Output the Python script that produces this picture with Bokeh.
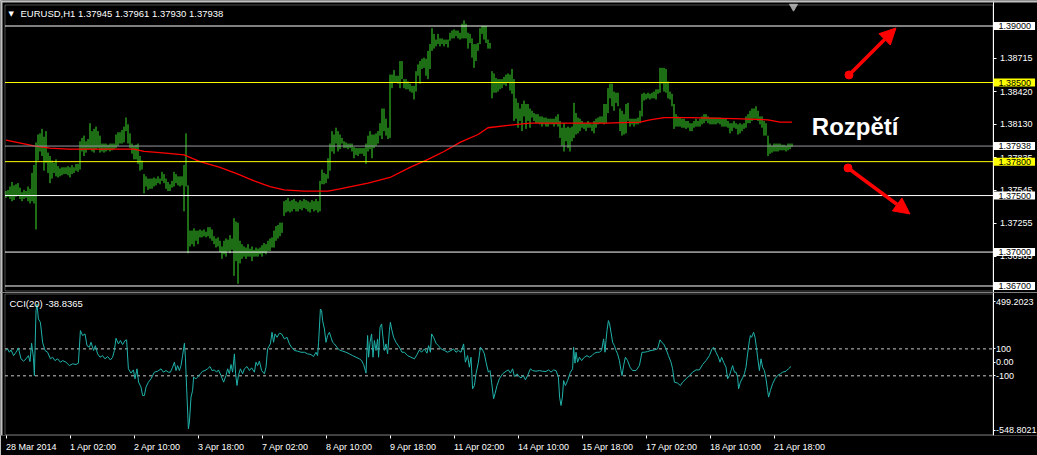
from bokeh.plotting import figure
from bokeh.models import (Label, Arrow, NormalHead, FixedTicker, PrintfTickFormatter,
                          Range1d, BoxAnnotation)
from bokeh.layouts import column
from bokeh.embed import file_html
from bokeh.resources import INLINE

# ---------------- data ----------------
highs = [
    1.3754, 1.3755, 1.3758, 1.3762, 1.3759, 1.3760, 1.3761, 1.3757, 1.3753, 1.3755,
    1.3754, 1.3758, 1.3756, 1.3770, 1.3777, 1.3797, 1.3804, 1.3805, 1.3809, 1.3802,
    1.3807, 1.3788, 1.3785, 1.3781, 1.3779, 1.3782, 1.3776, 1.3774, 1.3775, 1.3775,
    1.3775, 1.3776, 1.3775, 1.3777, 1.3775, 1.3778, 1.3778, 1.3798, 1.3801, 1.3803,
    1.3798, 1.3800, 1.3814, 1.3807, 1.3809, 1.3811, 1.3807, 1.3803, 1.3796, 1.3796,
    1.3796, 1.3795, 1.3796, 1.3796, 1.3796, 1.3804, 1.3806, 1.3806, 1.3808, 1.3811,
    1.3819, 1.3813, 1.3805, 1.3796, 1.3794, 1.3795, 1.3796, 1.3785, 1.3781, 1.3769,
    1.3767, 1.3765, 1.3765, 1.3765, 1.3766, 1.3765, 1.3767, 1.3765, 1.3771, 1.3769,
    1.3765, 1.3762, 1.3760, 1.3763, 1.3771, 1.3769, 1.3767, 1.3767, 1.3767, 1.3777,
    1.3805, 1.3759, 1.3719, 1.3719, 1.3721, 1.3719, 1.3719, 1.3720, 1.3719, 1.3720,
    1.3718, 1.3722, 1.3722, 1.3720, 1.3714, 1.3712, 1.3713, 1.3710, 1.3705, 1.3710,
    1.3712, 1.3711, 1.3715, 1.3712, 1.3730, 1.3727, 1.3726, 1.3710, 1.3707, 1.3705,
    1.3704, 1.3707, 1.3703, 1.3705, 1.3702, 1.3704, 1.3703, 1.3704, 1.3706, 1.3708,
    1.3707, 1.3710, 1.3712, 1.3713, 1.3719, 1.3723, 1.3724, 1.3726, 1.3726, 1.3745,
    1.3746, 1.3748, 1.3745, 1.3746, 1.3747, 1.3745, 1.3744, 1.3746, 1.3745, 1.3747,
    1.3746, 1.3745, 1.3744, 1.3746, 1.3745, 1.3747, 1.3745, 1.3763, 1.3773, 1.3770,
    1.3769, 1.3783, 1.3796, 1.3807, 1.3804, 1.3810, 1.3807, 1.3804, 1.3801, 1.3798,
    1.3797, 1.3796, 1.3796, 1.3796, 1.3793, 1.3792, 1.3792, 1.3792, 1.3792, 1.3792,
    1.3796, 1.3803, 1.3807, 1.3804, 1.3804, 1.3805, 1.3807, 1.3814, 1.3827, 1.3827,
    1.3818, 1.3810, 1.3857, 1.3857, 1.3861, 1.3856, 1.3856, 1.3869, 1.3869, 1.3853,
    1.3853, 1.3851, 1.3849, 1.3847, 1.3847, 1.3860, 1.3866, 1.3869, 1.3871, 1.3872,
    1.3871, 1.3878, 1.3884, 1.3898, 1.3893, 1.3888, 1.3893, 1.3889, 1.3889, 1.3888,
    1.3888, 1.3888, 1.3894, 1.3896, 1.3897, 1.3896, 1.3896, 1.3894, 1.3902, 1.3905,
    1.3902, 1.3894, 1.3893, 1.3889, 1.3884, 1.3884, 1.3885, 1.3898, 1.3900, 1.3900,
    1.3900, 1.3888, 1.3885, 1.3860, 1.3858, 1.3854, 1.3853, 1.3853, 1.3853, 1.3855,
    1.3857, 1.3858, 1.3857, 1.3862, 1.3853, 1.3836, 1.3832, 1.3827, 1.3831, 1.3834,
    1.3831, 1.3831, 1.3827, 1.3825, 1.3823, 1.3822, 1.3822, 1.3820, 1.3820, 1.3819,
    1.3819, 1.3818, 1.3818, 1.3818, 1.3818, 1.3820, 1.3822, 1.3816, 1.3810, 1.3814,
    1.3810, 1.3811, 1.3810, 1.3811, 1.3832, 1.3823, 1.3819, 1.3818, 1.3816, 1.3814,
    1.3814, 1.3816, 1.3814, 1.3813, 1.3816, 1.3818, 1.3819, 1.3820, 1.3820, 1.3831,
    1.3831, 1.3845, 1.3849, 1.3849, 1.3842, 1.3841, 1.3841, 1.3827, 1.3825, 1.3822,
    1.3831, 1.3832, 1.3818, 1.3818, 1.3818, 1.3818, 1.3819, 1.3825, 1.3840, 1.3841,
    1.3840, 1.3841, 1.3840, 1.3841, 1.3842, 1.3844, 1.3844, 1.3863, 1.3863, 1.3863,
    1.3862, 1.3851, 1.3842, 1.3840, 1.3831, 1.3822, 1.3820, 1.3819, 1.3818, 1.3818,
    1.3816, 1.3816, 1.3814, 1.3814, 1.3816, 1.3818, 1.3816, 1.3818, 1.3820, 1.3822,
    1.3822, 1.3820, 1.3819, 1.3819, 1.3819, 1.3819, 1.3819, 1.3819, 1.3818, 1.3818,
    1.3818, 1.3816, 1.3814, 1.3814, 1.3816, 1.3814, 1.3813, 1.3814, 1.3813, 1.3814,
    1.3820, 1.3822, 1.3825, 1.3827, 1.3827, 1.3829, 1.3825, 1.3820, 1.3820, 1.3816,
    1.3814, 1.3803, 1.3796, 1.3794, 1.3796, 1.3796, 1.3796, 1.3796, 1.3795, 1.3795,
    1.3794, 1.3796, 1.3796, 1.3796,
]
lows = [
    1.3748, 1.3749, 1.3747, 1.3745, 1.3746, 1.3749, 1.3750, 1.3747, 1.3745, 1.3747,
    1.3748, 1.3745, 1.3743, 1.3745, 1.3743, 1.3720, 1.3781, 1.3789, 1.3785, 1.3772,
    1.3779, 1.3770, 1.3761, 1.3765, 1.3770, 1.3767, 1.3766, 1.3767, 1.3768, 1.3769,
    1.3769, 1.3768, 1.3766, 1.3769, 1.3770, 1.3772, 1.3771, 1.3773, 1.3789, 1.3785,
    1.3788, 1.3791, 1.3791, 1.3789, 1.3788, 1.3791, 1.3792, 1.3788, 1.3789, 1.3788,
    1.3789, 1.3790, 1.3789, 1.3790, 1.3791, 1.3792, 1.3794, 1.3796, 1.3796, 1.3797,
    1.3807, 1.3796, 1.3792, 1.3787, 1.3782, 1.3782, 1.3778, 1.3772, 1.3773, 1.3752,
    1.3758, 1.3755, 1.3756, 1.3756, 1.3758, 1.3759, 1.3761, 1.3760, 1.3763, 1.3761,
    1.3756, 1.3754, 1.3754, 1.3757, 1.3758, 1.3761, 1.3759, 1.3758, 1.3759, 1.3736,
    1.3758, 1.3699, 1.3705, 1.3707, 1.3705, 1.3710, 1.3707, 1.3713, 1.3713, 1.3714,
    1.3713, 1.3714, 1.3712, 1.3710, 1.3707, 1.3704, 1.3705, 1.3700, 1.3694, 1.3698,
    1.3696, 1.3701, 1.3699, 1.3702, 1.3679, 1.3692, 1.3672, 1.3690, 1.3694, 1.3696,
    1.3694, 1.3696, 1.3696, 1.3692, 1.3696, 1.3696, 1.3696, 1.3698, 1.3696, 1.3699,
    1.3698, 1.3701, 1.3701, 1.3704, 1.3704, 1.3710, 1.3712, 1.3714, 1.3717, 1.3732,
    1.3735, 1.3736, 1.3735, 1.3736, 1.3738, 1.3736, 1.3736, 1.3738, 1.3737, 1.3739,
    1.3738, 1.3736, 1.3735, 1.3738, 1.3736, 1.3737, 1.3735, 1.3736, 1.3760, 1.3760,
    1.3761, 1.3765, 1.3772, 1.3789, 1.3787, 1.3796, 1.3789, 1.3791, 1.3796, 1.3792,
    1.3792, 1.3791, 1.3792, 1.3789, 1.3783, 1.3786, 1.3785, 1.3787, 1.3787, 1.3785,
    1.3778, 1.3789, 1.3791, 1.3783, 1.3792, 1.3794, 1.3796, 1.3803, 1.3800, 1.3807,
    1.3803, 1.3800, 1.3801, 1.3845, 1.3850, 1.3850, 1.3849, 1.3845, 1.3853, 1.3845,
    1.3844, 1.3844, 1.3842, 1.3841, 1.3835, 1.3842, 1.3856, 1.3849, 1.3862, 1.3863,
    1.3856, 1.3853, 1.3862, 1.3878, 1.3880, 1.3882, 1.3884, 1.3882, 1.3884, 1.3882,
    1.3884, 1.3881, 1.3887, 1.3889, 1.3889, 1.3891, 1.3889, 1.3888, 1.3889, 1.3889,
    1.3889, 1.3880, 1.3885, 1.3872, 1.3863, 1.3869, 1.3878, 1.3884, 1.3893, 1.3888,
    1.3885, 1.3880, 1.3880, 1.3836, 1.3841, 1.3841, 1.3842, 1.3844, 1.3845, 1.3848,
    1.3847, 1.3850, 1.3843, 1.3840, 1.3816, 1.3818, 1.3810, 1.3816, 1.3807, 1.3820,
    1.3809, 1.3816, 1.3810, 1.3819, 1.3816, 1.3814, 1.3814, 1.3813, 1.3811, 1.3813,
    1.3811, 1.3811, 1.3813, 1.3813, 1.3811, 1.3813, 1.3811, 1.3801, 1.3794, 1.3789,
    1.3798, 1.3792, 1.3789, 1.3798, 1.3801, 1.3804, 1.3805, 1.3807, 1.3810, 1.3809,
    1.3807, 1.3810, 1.3810, 1.3807, 1.3805, 1.3810, 1.3813, 1.3814, 1.3814, 1.3813,
    1.3814, 1.3823, 1.3836, 1.3829, 1.3825, 1.3832, 1.3829, 1.3807, 1.3803, 1.3804,
    1.3805, 1.3816, 1.3811, 1.3813, 1.3811, 1.3813, 1.3813, 1.3814, 1.3820, 1.3834,
    1.3835, 1.3836, 1.3835, 1.3836, 1.3836, 1.3835, 1.3840, 1.3841, 1.3849, 1.3842,
    1.3841, 1.3836, 1.3835, 1.3829, 1.3809, 1.3811, 1.3811, 1.3811, 1.3810, 1.3810,
    1.3809, 1.3810, 1.3807, 1.3807, 1.3810, 1.3811, 1.3811, 1.3811, 1.3813, 1.3814,
    1.3816, 1.3814, 1.3813, 1.3813, 1.3813, 1.3813, 1.3814, 1.3813, 1.3811, 1.3811,
    1.3811, 1.3810, 1.3805, 1.3807, 1.3810, 1.3809, 1.3804, 1.3805, 1.3807, 1.3809,
    1.3810, 1.3814, 1.3814, 1.3816, 1.3818, 1.3818, 1.3816, 1.3813, 1.3810, 1.3803,
    1.3803, 1.3785, 1.3787, 1.3788, 1.3789, 1.3789, 1.3789, 1.3790, 1.3790, 1.3790,
    1.3789, 1.3790, 1.3791, 1.3793,
]
bar_index = list(range(len(highs)))

# moving average (red), read at its turning points
ma_x = [0, 14, 22, 31, 64, 69, 77, 89, 97, 107, 116, 124, 132, 139, 149, 161, 167, 181,
        192, 202, 211, 219, 227, 236, 241, 251, 262, 277, 300, 317, 322, 329, 342, 364,
        381, 387, 393]
ma_v = [1.3799, 1.3794, 1.3792, 1.3791, 1.3791, 1.3789, 1.3788, 1.3786, 1.3780, 1.3775,
        1.3769, 1.3763, 1.3758, 1.3755, 1.3754, 1.3754, 1.3756, 1.3761, 1.3766, 1.3775,
        1.3782, 1.3789, 1.3797, 1.3804, 1.3810, 1.3812, 1.3814, 1.3814, 1.3814, 1.3815,
        1.3817, 1.3819, 1.3819, 1.3818, 1.3817, 1.3815, 1.3815]

# CCI(20) vertices
cci_x = [
    0, 0.8, 1.7, 2.5, 3.8, 5, 6.2, 7.5, 8.8, 10,
    11.2, 12, 12.8, 13.7, 14.2, 15, 15.5, 16.2, 17.2, 18.3,
    19.5, 20.8, 22.2, 23.3, 24.5, 25.8, 27.2, 28.3, 30, 31.7,
    33.3, 35, 36.2, 37.2, 38.3, 39.5, 40.5, 41.7, 42.5, 43.8,
    44.7, 45.8, 47, 48.3, 49.5, 50.8, 52.2, 53.3, 54.2, 55,
    56.2, 57.2, 58.3, 59.5, 60.3, 61.2, 62.5, 63.7, 64.5, 65.5,
    66.3, 67.5, 68.3, 69.2, 70, 71.2, 72.5, 74.2, 75.8, 77.5,
    78.7, 80, 81.2, 82.2, 83.3, 84.2, 85, 85.8, 86.7, 87.5,
    88.3, 89.2, 89.7, 90.3, 91.2, 91.7, 92.5, 93.3, 93.8, 95,
    95.8, 97.2, 98.3, 99.5, 100.8, 102, 103, 104.2, 105.3, 106.2,
    107.5, 108.8, 110, 110.8, 111.7, 112.5, 113.3, 114.2, 114.8, 115.5,
    116.2, 117.2, 118.3, 119.2, 120.5, 121.7, 122.8, 124.2, 125, 125.8,
    126.7, 127.8, 129.2, 130, 130.8, 132.2, 133, 133.8, 134.5, 135.5,
    136.7, 137.8, 139.2, 140.5, 141.7, 142.8, 144.2, 145.8, 147.5, 149.2,
    150.8, 152.5, 153.8, 155, 155.8, 156.3, 157.2, 157.8, 158.3, 159.2,
    160, 160.8, 161.7, 162.5, 163.3, 164.2, 165.5, 166.7, 168.3, 170,
    171.7, 173.3, 175, 176.7, 177.8, 178.8, 180, 180.8, 181.3, 182,
    182.8, 183.5, 184.2, 185, 185.8, 186.3, 187, 187.8, 188.3, 189.2,
    190, 190.8, 191.7, 192.2, 192.8, 193.8, 195, 196.7, 198, 199.2,
    200.8, 202.5, 204.2, 205.5, 206.7, 207.8, 209.2, 210.5, 211.3, 212.2,
    212.8, 213.8, 215, 216.2, 217.5, 219.2, 220.8, 222.5, 223.8, 225,
    226.2, 227.5, 228.8, 229.7, 230.8, 231.7, 232.5, 233.3, 234.2, 235,
    236.2, 237.2, 238, 239.2, 240, 241.2, 242, 242.8, 243.8, 244.5,
    245.5, 246.7, 248.3, 250, 251.2, 252.2, 253.3, 254.2, 255.5, 256.8,
    257.5, 258.7, 259.7, 260.8, 262.2, 263.3, 265, 266.7, 268.3, 270,
    271.3, 272.5, 273.8, 275, 276.2, 276.8, 277.5, 278.2, 278.8, 279.7,
    280.8, 282.2, 283.3, 283.8, 284.5, 285, 285.8, 286.7, 287.8, 289.2,
    290.5, 291.7, 293, 294.2, 295.5, 296.7, 297.8, 298.8, 299.5, 300,
    300.5, 301.2, 301.8, 302.5, 303.3, 304.2, 305, 305.8, 306.7, 307.5,
    308, 308.8, 309.7, 310.8, 312, 313.3, 315, 316.7, 318, 319.2,
    320.8, 322.5, 324.2, 325.8, 327, 327.8, 328.8, 330, 331.2, 332.5,
    333.3, 334.2, 335.8, 337.2, 338.3, 340, 341.7, 343.3, 345, 346.7,
    348.3, 350, 351.7, 353, 353.8, 355, 356.2, 357, 357.8, 358.8,
    360, 360.8, 361.7, 362.5, 363.3, 364.2, 365, 365.8, 366.3, 367.2,
    368.3, 369.2, 370, 370.8, 371.7, 372.2, 372.8, 373.8, 374.5, 375.2,
    375.8, 376.7, 377.5, 378.3, 379.2, 380, 380.8, 381.3, 382.2, 383.3,
    384.5, 385.8, 387.2, 388.3, 390, 391.2, 392.5,
]
cci_v = [
    88, 100, 75, 92, 50, 75, 107, 26, 9, 26,
    50, 6, 142, 38, -98, 384, 433, 322, 297, 149,
    88, 75, 26, 38, 13, 26, 1, 13, 1, -24,
    -11, -16, -6, 236, 199, 211, 124, 112, 149, 88,
    124, 63, 38, 50, 26, 43, 18, 38, 88, 179,
    137, 162, 132, 162, 167, -48, -80, -56, -122, -48,
    -147, -184, -246, -246, -184, -147, -122, -73, -66, -48,
    -73, -61, -73, -73, -36, 1, -61, -24, -61, -24,
    50, 142, 38, -184, -493, -443, -258, -209, -110, -122,
    -110, -85, -66, -61, -48, -31, -61, -56, -73, -56,
    -98, -147, -98, -48, -85, -16, -73, 63, -85, -172,
    -98, -48, -85, -48, -31, -61, -41, -73, 1, -24,
    9, -61, -85, -36, 100, 137, 223, 149, 211, 186,
    216, 211, 174, 186, 137, 112, 88, 83, 75, 75,
    63, 58, 43, 75, 50, 149, 396, 384, 310, 248,
    149, 199, 223, 186, 149, 137, 112, 92, 83, 75,
    63, 50, 38, 26, 13, -16, -80, 199, 38, 149,
    211, 38, 162, 88, 174, 38, 260, 285, 211, 88,
    137, 63, 236, 297, 248, 186, 149, 112, 75, 75,
    50, 38, 26, 58, 92, 75, 100, 68, 124, 75,
    211, 186, 142, 124, 100, 88, 75, 88, 100, 75,
    88, 75, 137, 1, 50, -36, 38, -196, -172, -85,
    1, 112, 100, 63, 1, -73, -61, -147, -270, -233,
    -172, -122, -85, -66, -56, -80, -48, -105, -85, -110,
    -115, -98, -130, -98, -48, -61, -66, -61, -66, -68,
    -56, -73, -56, -61, -110, -258, -320, -258, -135, -172,
    -135, -73, -48, 112, -6, 75, 1, 38, 13, 38,
    50, 38, 50, 68, 75, 75, 88, 174, 75, 162,
    236, 310, 285, 223, 149, 124, 88, 63, 13, -61,
    -98, -24, 38, 13, -36, -61, -61, -24, 75, 75,
    80, 88, 92, 100, 167, 149, 137, 100, 50, 1,
    -48, -147, -154, -172, -147, -122, -98, -73, -56, -56,
    -16, 13, 50, 100, 112, 75, 38, 1, 38, 1,
    -36, -122, -98, -61, -24, -73, -73, -110, -196, -147,
    -115, -85, -36, 63, 162, 199, 186, 223, 186, 112,
    38, -61, 26, -36, -61, -122, -209, -258, -209, -159,
    -122, -98, -85, -73, -66, -48, -31,
]

# horizontal levels
white_levels = [1.3900, 1.3750, 1.3700, 1.3670]
yellow_levels = [1.3850, 1.3780]
bid_level = 1.37938
box_levels = [1.39000, 1.38500, 1.37938, 1.37800, 1.37500, 1.37000, 1.36700]
box_colors = ["white", "#FFFF00", "white", "#FFFF00", "white", "white", "white"]
price_ticks = [1.38715, 1.38420, 1.38130, 1.37835, 1.37545, 1.37255, 1.36965]

cci_tick_pos = [450, 100, 0, -100, -505]
cci_tick_text = ["499.2023", "100", "0.00", "-100", "-548.8021"]
cci_levels = [100, -100]

time_ticks = [0, 32, 64, 96, 128, 160, 192, 224, 256, 288, 320, 352, 384]
time_labels = ["28 Mar 2014", "1 Apr 02:00", "2 Apr 10:00", "3 Apr 18:00", "7 Apr 02:00",
               "8 Apr 10:00", "9 Apr 18:00", "11 Apr 02:00", "14 Apr 10:00", "15 Apr 18:00",
               "17 Apr 02:00", "18 Apr 10:00", "21 Apr 18:00"]

arrow_x0 = [421.5, 421.0]
arrow_y0 = [1.38567, 1.37744]
arrow_x1 = [445.0, 452.0]
arrow_y1 = [1.38982, 1.37337]

shift_marker_x = [393.75]
shift_marker_y = [1.39172]

title_text = "EURUSD,H1  1.37945 1.37961 1.37930 1.37938"
cci_title = "CCI(20) -38.8365"

# ---------------- layout constants ----------------
FONT = "Liberation Sans"
FS = "9px"
FS_TITLE = "9.5px"
BAR = "#3ADB2A"
XR = (-2.75, 515.75)          # bar-index range over the full window width
PANE = (-0.5, 493.5)          # chart pane (right edge = price scale line)
PRICE_R = (1.366424, 1.392256)
PRICE_BOX = (1.366557, 1.391858)
CCI_R = (-543.0, 518.5)
CCI_BOX = (-537.0, 507.4)
EDGE = "#C0C0C0"

def style_axis(ax, out=3, standoff=3):
    ax.axis_line_color = "white"
    ax.major_tick_line_color = "white"
    ax.minor_tick_line_color = None
    ax.major_tick_in = 0
    ax.major_tick_out = out
    ax.major_label_standoff = standoff
    ax.major_label_text_color = "white"
    ax.major_label_text_font = FONT
    ax.major_label_text_font_size = FS

# ---------------- price pane ----------------
p1 = figure(frame_width=1037, frame_height=292,
            x_range=Range1d(*XR), y_range=Range1d(*PRICE_R),
            output_backend="svg", toolbar_location=None,
            x_axis_location=None, y_axis_location="right",
            min_border_left=0, min_border_right=0, min_border_top=0, min_border_bottom=0,
            background_fill_color="black", border_fill_color="black",
            outline_line_color=None)
p1.grid.visible = False
ya = p1.yaxis[0]
style_axis(ya, out=3, standoff=4)
ya.fixed_location = PANE[1]
ya.ticker = FixedTicker(ticks=price_ticks)
ya.formatter = PrintfTickFormatter(format="%.5f")

p1.segment(x0=bar_index, y0=lows, x1=bar_index, y1=highs, line_color=BAR, line_width=1)
p1.line(ma_x, ma_v, line_color="#FF0000", line_width=1.3)

n_w = len(white_levels)
p1.segment(x0=[PANE[0]] * n_w, x1=[PANE[1]] * n_w, y0=white_levels, y1=white_levels,
           line_color="white", line_width=1)
n_y = len(yellow_levels)
p1.segment(x0=[PANE[0]] * n_y, x1=[PANE[1]] * n_y, y0=yellow_levels, y1=yellow_levels,
           line_color="#FFFF00", line_width=1)
p1.segment(x0=[PANE[0]], x1=[PANE[1]], y0=[bid_level], y1=[bid_level],
           line_color="#9A9AA0", line_width=1)

p1.scatter(shift_marker_x, shift_marker_y, marker="inverted_triangle", size=8,
           color="#A0A0A0")

p1.add_layout(BoxAnnotation(left=PANE[0], right=PANE[1], bottom=PRICE_BOX[0], top=PRICE_BOX[1],
                            fill_alpha=0, line_color="white", line_width=1))
# window edge
p1.add_layout(BoxAnnotation(left=0, right=2, left_units="screen", right_units="screen",
                            fill_color=EDGE, fill_alpha=1, line_alpha=0))
p1.add_layout(BoxAnnotation(bottom=290, top=292, bottom_units="screen", top_units="screen",
                            fill_color=EDGE, fill_alpha=1, line_alpha=0))

for lv, c in zip(box_levels, box_colors):
    p1.add_layout(Label(x=993, y=lv, x_units="screen", y_units="data",
                        text=f"{lv:.5f}", text_color="black", text_font=FONT,
                        text_font_size=FS, text_align="left", text_baseline="middle",
                        background_fill_color=c,
                        padding=dict(left=5, right=4, top=1, bottom=1)))

p1.add_layout(Label(x=8, y=279, x_units="screen", y_units="screen", text="\u25BC",
                    text_color="white", text_font="DejaVu Sans", text_font_size="7px",
                    text_baseline="middle"))
p1.add_layout(Label(x=20, y=279, x_units="screen", y_units="screen", text=title_text,
                    text_color="white", text_font=FONT, text_font_size=FS_TITLE,
                    text_baseline="middle"))

p1.add_layout(Label(x=402.9, y=1.38107, text="Rozpětí", text_color="white",
                    text_font=FONT, text_font_style="bold", text_font_size="24px",
                    text_baseline="alphabetic"))

for xa, ya_, xb, yb in zip(arrow_x0, arrow_y0, arrow_x1, arrow_y1):
    p1.add_layout(Arrow(x_start=xa, y_start=ya_, x_end=xb, y_end=yb,
                        line_color="#FF0000", line_width=3.5, start=None,
                        end=NormalHead(size=16, fill_color="#FF0000", line_color="#FF0000")))
p1.scatter(arrow_x0, arrow_y0, size=8, color="#FF0000")

# ---------------- CCI pane ----------------
p2 = figure(frame_width=1037, frame_height=143,
            x_range=Range1d(*XR), y_range=Range1d(*CCI_R),
            output_backend="svg", toolbar_location=None,
            x_axis_location="below", y_axis_location="right",
            min_border_left=0, min_border_right=0, min_border_top=0, min_border_bottom=20,
            background_fill_color="black", border_fill_color="black",
            outline_line_color=None)
p2.grid.visible = False
yb_ax = p2.yaxis[0]
style_axis(yb_ax, out=2, standoff=1)
yb_ax.fixed_location = PANE[1]
yb_ax.ticker = FixedTicker(ticks=cci_tick_pos)
yb_ax.major_label_overrides = dict(zip(cci_tick_pos, cci_tick_text))

xb_ax = p2.xaxis[0]
style_axis(xb_ax, out=3, standoff=8)
xb_ax.axis_line_color = None
xb_ax.ticker = FixedTicker(ticks=time_ticks)
xb_ax.major_label_overrides = dict(zip(time_ticks, time_labels))
xb_ax.major_label_orientation = -0.0001

n_c = len(cci_levels)
p2.segment(x0=[PANE[0]] * n_c, x1=[PANE[1]] * n_c, y0=cci_levels, y1=cci_levels,
           line_color="#C8C8C8", line_width=1, line_dash="3 3")
p2.line(cci_x, cci_v, line_color="#20B2AA", line_width=1)

p2.add_layout(BoxAnnotation(left=PANE[0], right=PANE[1], bottom=CCI_BOX[0], top=CCI_BOX[1],
                            fill_alpha=0, line_color="white", line_width=1))
p2.add_layout(BoxAnnotation(left=0, right=2, left_units="screen", right_units="screen",
                            fill_color=EDGE, fill_alpha=1, line_alpha=0))

p2.add_layout(Label(x=9, y=132, x_units="screen", y_units="screen", text=cci_title,
                    text_color="white", text_font=FONT, text_font_size=FS_TITLE,
                    text_baseline="middle"))

layout = column(p1, p2, spacing=0)
open("out.html", "w").write(file_html(layout, INLINE))
